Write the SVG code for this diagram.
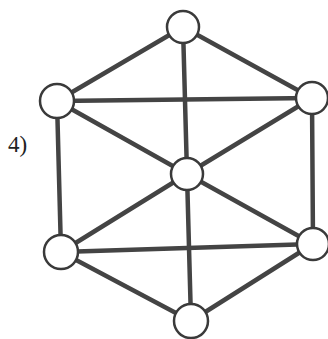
<svg xmlns="http://www.w3.org/2000/svg" width="328" height="339" viewBox="0 0 328 339">
<style>
.e{stroke:#444;stroke-width:4.5;stroke-linecap:round}
.n{fill:#fff;stroke:#3a3a3a;stroke-width:2.5}
.t{font-family:"Liberation Serif",serif;font-size:23px;fill:#222}
</style>
<rect width="328" height="339" fill="#fff"/>
<g id="connectors">
<line class="e" x1="183" y1="27" x2="57" y2="101"/>
<line class="e" x1="183" y1="27" x2="312" y2="98"/>
<line class="e" x1="183" y1="27" x2="187" y2="174"/>
<line class="e" x1="57" y1="101" x2="312" y2="98"/>
<line class="e" x1="57" y1="101" x2="187" y2="174"/>
<line class="e" x1="312" y1="98" x2="187" y2="174"/>
<line class="e" x1="57" y1="101" x2="61" y2="252"/>
<line class="e" x1="312" y1="98" x2="313" y2="244"/>
<line class="e" x1="187" y1="174" x2="61" y2="252"/>
<line class="e" x1="187" y1="174" x2="313" y2="244"/>
<line class="e" x1="187" y1="174" x2="191" y2="321"/>
<line class="e" x1="61" y1="252" x2="313" y2="244"/>
<line class="e" x1="61" y1="252" x2="191" y2="321"/>
<line class="e" x1="313" y1="244" x2="191" y2="321"/>
</g>
<g id="n1"><circle class="n" cx="183" cy="27" r="16"/></g>
<g id="n2"><circle class="n" cx="57" cy="101" r="17"/></g>
<g id="n3"><circle class="n" cx="312" cy="98" r="16"/></g>
<g id="n4"><circle class="n" cx="187" cy="174" r="16"/></g>
<g id="n5"><circle class="n" cx="61" cy="252" r="17"/></g>
<g id="n6"><circle class="n" cx="313" cy="244" r="16"/></g>
<g id="n7"><circle class="n" cx="191" cy="321" r="17"/></g>
<text class="t" x="8" y="152">4)</text>
</svg>
